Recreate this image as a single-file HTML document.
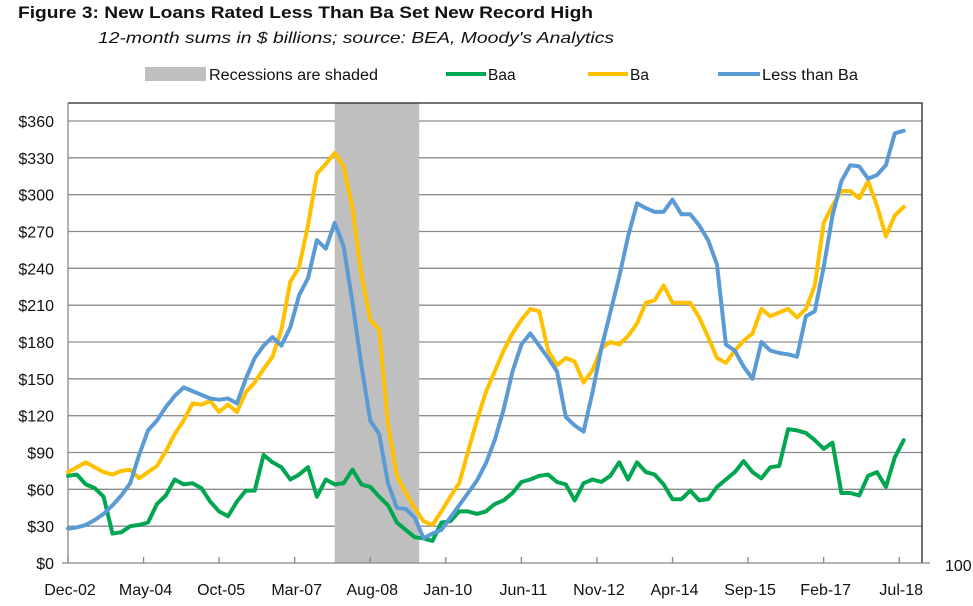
<!DOCTYPE html>
<html><head><meta charset="utf-8"><style>
html,body{margin:0;padding:0;background:#fff;}
svg{display:block;font-family:"Liberation Sans",sans-serif;}
</style></head><body>
<svg id="chart" width="973" height="606" viewBox="0 0 973 606">
<text x="18" y="18" font-size="17" font-weight="bold" fill="#111" textLength="575" lengthAdjust="spacingAndGlyphs">Figure 3: New Loans Rated Less Than Ba Set New Record High</text>
<text x="98" y="43" font-size="16" font-style="italic" fill="#111" textLength="516" lengthAdjust="spacingAndGlyphs">12-month sums in $ billions; source: BEA, Moody's Analytics</text>
<g>
<g><rect x="145" y="67" width="61" height="14" fill="#bfbfbf"/><text x="209" y="80" font-size="15.5" fill="#111" textLength="169" lengthAdjust="spacingAndGlyphs">Recessions are shaded</text></g>
<g><line x1="446" y1="74" x2="486" y2="74" stroke="#00a650" stroke-width="4"/><text x="488" y="80" font-size="15.5" fill="#111">Baa</text></g>
<g><line x1="588" y1="74" x2="628" y2="74" stroke="#ffc000" stroke-width="4"/><text x="630" y="80" font-size="15.5" fill="#111">Ba</text></g>
<g><line x1="718" y1="74" x2="760" y2="74" stroke="#5b9bd5" stroke-width="4"/><text x="762" y="80" font-size="15.5" fill="#111" textLength="96" lengthAdjust="spacingAndGlyphs">Less than Ba</text></g>
</g>
<g id="plot"></g>
<text x="945" y="571" font-size="16" fill="#111">100</text>
</svg>
<script>
const yTicks = [0,30,60,90,120,150,180,210,240,270,300,330,360];
const xLabels = ["Dec-02","May-04","Oct-05","Mar-07","Aug-08","Jan-10","Jun-11","Nov-12","Apr-14","Sep-15","Feb-17","Jul-18"];
const xLabelMonths = [0,17,34,51,68,85,102,119,136,153,170,187];
const recessionMonths = [60,79];
// bimonthly samples starting Dec-02 (month index = 2*i)
const lessThanBa = [28,29,31,35,40,47,55,65,88,108,116,127,136,143,140,137,134,133,134,130,150,167,177,184,177,192,218,232,263,256,277,258,212,161,116,105,65,45,44,37,20,24,27,37,47,57,67,81,100,125,156,178,187,177,167,156,119,112,107,139,175,204,233,266,293,289,286,286,296,284,284,275,263,243,178,173,160,150,180,173,171,170,168,201,205,241,283,311,324,323,313,316,324,350,352];
const ba = [74,78,82,78,74,72,75,76,69,74,79,91,105,116,130,129,132,123,129,123,139,147,158,168,190,229,241,275,317,325,334,323,289,235,198,190,113,71,57,45,34,31,42,54,65,91,116,139,156,173,187,198,207,205,173,161,167,164,147,157,175,180,178,185,195,212,214,226,212,212,212,200,184,167,163,173,181,187,207,201,204,207,200,207,226,277,291,303,303,297,311,291,266,283,290];
const baa = [71,72,64,61,54,24,25,30,31,33,48,55,68,64,65,61,50,42,38,50,59,59,88,82,78,68,72,78,54,68,64,65,76,64,62,54,47,33,27,21,20,18,33,34,42,42,40,42,48,51,57,66,68,71,72,66,64,51,65,68,66,71,82,68,82,74,72,64,52,52,59,51,52,62,68,74,83,74,69,78,79,109,108,106,100,93,98,57,57,55,71,74,62,86,100];

const NS='http://www.w3.org/2000/svg';
const plot=document.getElementById('plot');
const X0=68, PX_PER_MONTH=4.445, Y0=563, PX_PER_UNIT=442/360, TOP=103, RIGHT=922;
const xScale=m=>X0+m*PX_PER_MONTH;
const yScale=v=>Y0-v*PX_PER_UNIT;
function mk(tag,attrs){const e=document.createElementNS(NS,tag);for(const k in attrs)e.setAttribute(k,attrs[k]);plot.appendChild(e);return e;}

const rec=mk('rect',{x:xScale(recessionMonths[0]),y:TOP,width:xScale(recessionMonths[1])-xScale(recessionMonths[0]),height:Y0-TOP,fill:'#bfbfbf'});



yTicks.forEach(v=>{
  if(v>0){const g=mk('line',{x1:X0,x2:RIGHT,y1:yScale(v),y2:yScale(v),stroke:'#8c8c8c','stroke-width':1.3});
  
  }
  const t=mk('text',{x:54,y:yScale(v)+6,'text-anchor':'end','font-size':16,fill:'#111'});
  t.textContent='$'+v;
  
  
});
// redraw recession over gridlines
plot.appendChild(rec);

const border=mk('polyline',{points:`${X0},${TOP} ${RIGHT},${TOP} ${RIGHT},${Y0}`,fill:'none',stroke:'#222','stroke-width':1.3});


const yaxis=mk('line',{x1:X0,x2:X0,y1:TOP,y2:Y0,stroke:'#888','stroke-width':1.3});


const xaxis=mk('line',{x1:X0-6,x2:RIGHT+8,y1:Y0,y2:Y0,stroke:'#888','stroke-width':1.3});



xLabels.forEach((lab,i)=>{
  const x=xScale(xLabelMonths[i]);
  const tk=mk('line',{x1:x,x2:x,y1:Y0,y2:Y0-6,stroke:'#888','stroke-width':1.3});
  
  
  const t=mk('text',{x:x+2,y:Y0+32,'text-anchor':'middle','font-size':16,fill:'#111'});
  t.textContent=lab;
  
  
});

function series(data,color,name){
  const pts=data.map((v,i)=>xScale(i*2).toFixed(1)+','+yScale(v).toFixed(1)).join(' ');
  const p=mk('polyline',{points:pts,fill:'none',stroke:color,'stroke-width':4,'stroke-linejoin':'round','stroke-linecap':'round'});
  
  
}
series(baa,'#00a650','line-baa');
series(ba,'#ffc000','line-ba');
series(lessThanBa,'#5b9bd5','line-less-than-ba');
</script>
</body></html>
